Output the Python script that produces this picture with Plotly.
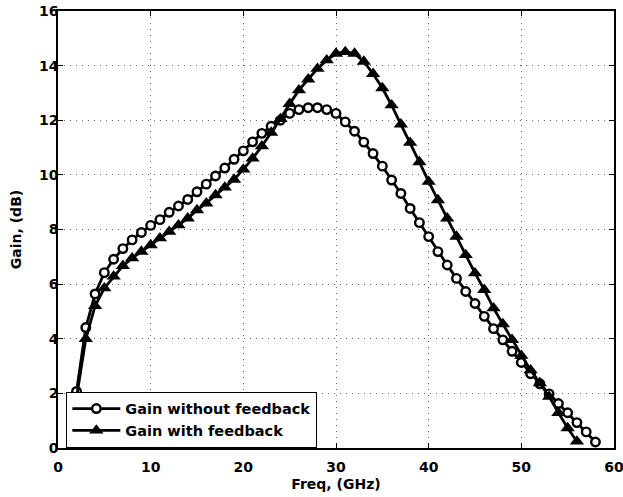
import plotly.graph_objects as go

# Frequency (GHz)
freq_wo = list(range(1, 59))
gain_without_feedback = [
    -3.4, 2.07, 4.41, 5.64, 6.42, 6.91, 7.30, 7.62, 7.89, 8.15,
    8.36, 8.63, 8.86, 9.10, 9.38, 9.66, 9.96, 10.25, 10.57, 10.88,
    11.21, 11.52, 11.78, 12.00, 12.25, 12.39, 12.46, 12.46, 12.39, 12.25,
    11.94, 11.60, 11.20, 10.78, 10.32, 9.81, 9.32, 8.77, 8.25, 7.74,
    7.19, 6.70, 6.21, 5.73, 5.29, 4.82, 4.37, 3.96, 3.54, 3.13,
    2.72, 2.35, 1.98, 1.63, 1.29, 0.93, 0.59, 0.22,
]

freq_w = list(range(1, 57))
gain_with_feedback = [
    -3.4, 1.85, 4.00, 5.20, 5.85, 6.28, 6.67, 6.95, 7.19, 7.43,
    7.68, 7.92, 8.16, 8.41, 8.71, 8.96, 9.26, 9.54, 9.83, 10.20,
    10.60, 11.05, 11.55, 12.05, 12.60, 13.10, 13.50, 13.89, 14.20, 14.44,
    14.50, 14.44, 14.15, 13.70, 13.18, 12.55, 11.85, 11.18, 10.47, 9.75,
    9.08, 8.41, 7.74, 7.07, 6.40, 5.79, 5.12, 4.54, 3.96, 3.38,
    2.85, 2.38, 1.88, 1.29, 0.73, 0.24,
]

x_ticks = [0, 10, 20, 30, 40, 50, 60]
y_ticks = [0, 2, 4, 6, 8, 10, 12, 14, 16]

FONT = "DejaVu Sans"

fig = go.Figure()
fig.add_trace(go.Scatter(
    x=freq_wo, y=gain_without_feedback, mode="lines+markers",
    name="<b>Gain without feedback</b>",
    line=dict(color="black", width=2.8),
    marker=dict(symbol="circle", size=8.5, color="white",
                line=dict(color="black", width=2.4)),
))
fig.add_trace(go.Scatter(
    x=freq_w, y=gain_with_feedback, mode="lines+markers",
    name="<b>Gain with feedback</b>",
    line=dict(color="black", width=2.8),
    marker=dict(symbol="triangle-up", size=12.5, color="black",
                line=dict(color="black", width=0)),
))

axis_common = dict(
    showline=True, linecolor="black", linewidth=1.5, mirror="ticks",
    ticks="inside", ticklen=5, tickwidth=1, tickcolor="black",
    showgrid=True, gridcolor="rgba(0,0,0,0.6)", gridwidth=1, griddash="1px,5px",
    zeroline=False, automargin=False, ticklabeloverflow="allow",
    tickfont=dict(family=FONT, size=14, color="black", weight="bold"),
)

fig.update_layout(
    width=623, height=497,
    margin=dict(l=58, r=9, t=11, b=49),
    paper_bgcolor="white", plot_bgcolor="white",
    showlegend=True,
    legend=dict(
        x=0.015, y=0.129, xanchor="left", yanchor="top",
        bgcolor="white", bordercolor="black", borderwidth=1,
        font=dict(family=FONT, size=14.5, color="black"),
        itemwidth=48, tracegroupgap=0,
    ),
    xaxis=dict(
        range=[0, 60], tickvals=x_ticks, ticklabelstandoff=5,
        title=dict(text="<b>Freq, (GHz)</b>", standoff=6,
                   font=dict(family=FONT, size=14, color="black")),
        **axis_common,
    ),
    yaxis=dict(
        range=[0, 16], tickvals=y_ticks, ticklabelstandoff=-5,
        title=dict(text="<b>Gain, (dB)</b>", standoff=14,
                   font=dict(family=FONT, size=14, color="black")),
        **axis_common,
    ),
)

fig.write_html("out.html", config={"displayModeBar": False},
               post_script="document.body.style.margin='0';")
